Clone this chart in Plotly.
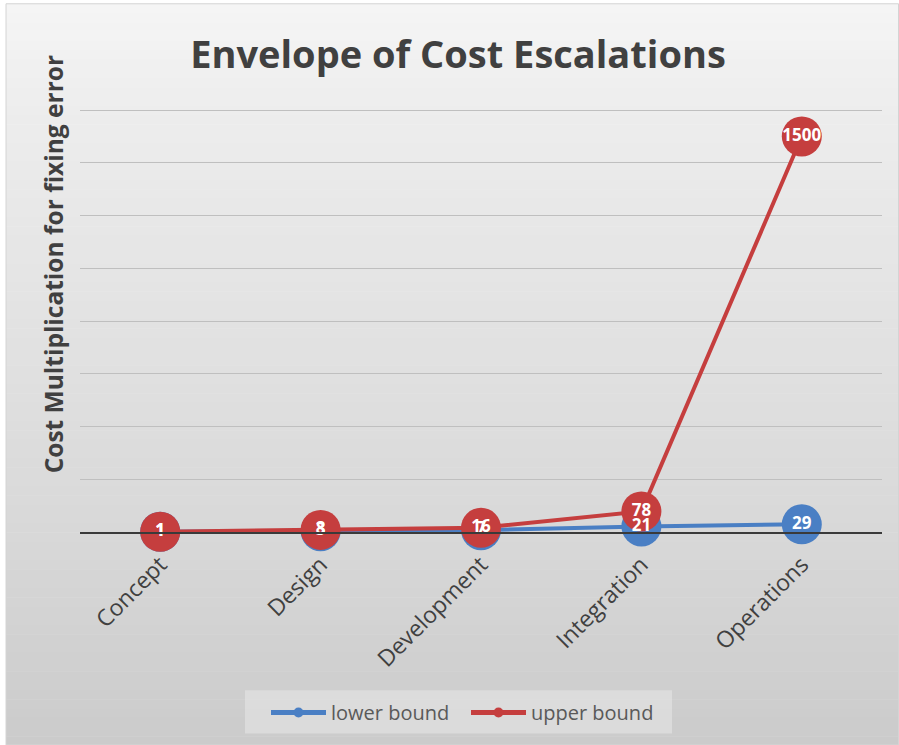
import numpy as np
import plotly.graph_objects as go

# Project phases and cost multipliers for fixing an error
phases = ["Concept", "Design", "Development", "Integration", "Operations"]
lower_bound = [1, 3, 7, 21, 29]
upper_bound = [1, 8, 16, 78, 1500]

BLUE = "#4a7fc4"
RED = "#c53e3e"
TEXT = "#404040"
FONT = "Open Sans, Calibri, sans-serif"

fig = go.Figure()

# Line + marker series (red drawn last so it sits on top)
for name, vals, col in [("lower bound", lower_bound, BLUE), ("upper bound", upper_bound, RED)]:
    fig.add_trace(go.Scatter(
        x=phases, y=vals, name=name, mode="lines+markers", showlegend=False,
        line=dict(color=col, width=4),
        marker=dict(color=col, size=40, line=dict(width=0)),
        cliponaxis=False,
    ))

# Value labels drawn above every marker
for vals in (lower_bound, upper_bound):
    fig.add_trace(go.Scatter(
        x=phases, y=vals, mode="text", text=[str(v) for v in vals],
        textposition="middle center", showlegend=False, hoverinfo="skip",
        textfont=dict(color="white", size=17, family=FONT, weight="bold"),
        cliponaxis=False,
    ))

# Legend entries with small marker glyphs
for name, col in [("lower bound", BLUE), ("upper bound", RED)]:
    fig.add_trace(go.Scatter(
        x=[None], y=[None], name=name, mode="lines+markers",
        line=dict(color=col, width=5), marker=dict(color=col, size=10),
    ))

# Vertical gradient backdrop for the chart frame
L, R, T, B = 80, 882, 110, 532   # plot area in pixels
W_PX, H_PX = 899, 745
def px_x(p):
    return (p - L) / (R - L)
def px_y(p):
    return (B - p) / (B - T)

stops_y = [5, 110, 532, 745]
stops_c = [245, 237, 216, 203]
n = 80
edges = np.linspace(5, 745, n + 1)
shapes = []
for i in range(n):
    mid = 0.5 * (edges[i] + edges[i + 1])
    g = int(round(np.interp(mid, stops_y, stops_c)))
    shapes.append(dict(
        type="rect", xref="paper", yref="paper", layer="below",
        x0=px_x(6), x1=px_x(899), y0=px_y(edges[i + 1] + 0.5), y1=px_y(edges[i]),
        fillcolor=f"rgb({g},{g},{g})", line=dict(width=0),
    ))
shapes.append(dict(
    type="rect", xref="paper", yref="paper", layer="below",
    x0=px_x(6), x1=px_x(898.5), y0=px_y(744.5), y1=px_y(5),
    fillcolor="rgba(0,0,0,0)", line=dict(color="#d4d4d4", width=1),
))
# Legend panel
shapes.append(dict(
    type="rect", xref="paper", yref="paper", layer="below",
    x0=px_x(245), x1=px_x(672), y0=px_y(733), y1=px_y(690),
    fillcolor="rgba(232,232,232,0.55)", line=dict(width=0),
))

fig.update_layout(
    width=W_PX, height=H_PX,
    margin=dict(l=L, r=W_PX - R, t=T - 1, b=H_PX - B),
    paper_bgcolor="white",
    plot_bgcolor="rgba(0,0,0,0)",
    shapes=shapes,
    title=dict(
        text="<b>Envelope of Cost Escalations</b>",
        x=458 / W_PX, xref="container", xanchor="center",
        y=1 - 55 / H_PX, yref="container", yanchor="middle",
        font=dict(family=FONT, size=38, color=TEXT),
    ),
    xaxis=dict(
        range=[-0.5, 4.5], showgrid=False, zeroline=False,
        showline=True, linecolor="#3a3a3a", linewidth=2,
        tickangle=-45, ticks="", ticklabelstandoff=8,
        tickfont=dict(family=FONT, size=23, color=TEXT),
    ),
    yaxis=dict(
        range=[0, 1604], tickvals=[0, 200, 400, 600, 800, 1000, 1200, 1400, 1600],
        showticklabels=False,
        showgrid=True, gridcolor="#bfbfbf", gridwidth=1, zeroline=False,
    ),
    annotations=[dict(
        text="<b>Cost Multiplication for fixing error</b>",
        xref="paper", yref="paper", x=px_x(53), y=px_y(265),
        xanchor="center", yanchor="middle", textangle=-90, showarrow=False,
        font=dict(family=FONT, size=24.5, color=TEXT),
    )],
    legend=dict(
        orientation="h", x=px_x(466), xanchor="center", y=px_y(712), yanchor="middle",
        bgcolor="rgba(0,0,0,0)", borderwidth=0,
        font=dict(family=FONT, size=20, color="#595959"),
        itemwidth=55, entrywidth=130, entrywidthmode="pixels",
    ),
    showlegend=True,
)

fig.write_html("out.html")
